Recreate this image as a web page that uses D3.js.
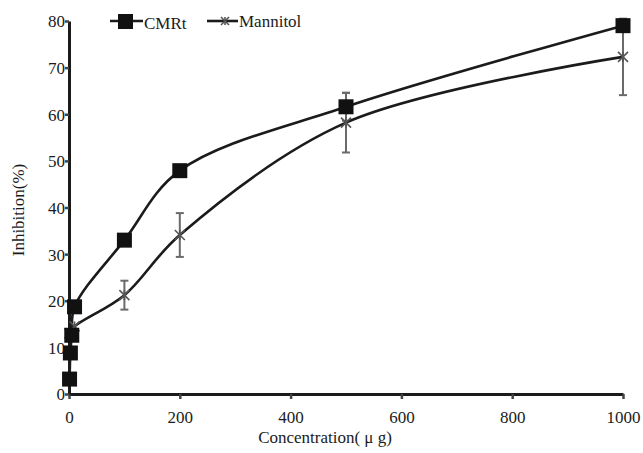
<!DOCTYPE html>
<html><head><meta charset="utf-8">
<script src="https://cdn.jsdelivr.net/npm/d3@7/dist/d3.min.js"></script>
<style>body{margin:0;background:#fff}svg{display:block}svg text{font-family:"Liberation Serif","DejaVu Serif","Times New Roman",serif}</style>
</head><body>
<svg id="c" width="643" height="453"></svg>
<script>
const cmrtX = [1, 2.5, 5, 10, 100, 200, 500, 1000];
const cmrtY = [3.2, 8.8, 12.6, 18.7, 33.0, 47.9, 61.6, 79.0];
const cmrtErr = [0, 0, 0, 0, 0.8, 0.8, 3.0, 0];
const manX = [1, 10, 100, 200, 500, 1000];
const manY = [13.0, 14.5, 21.2, 34.1, 58.2, 72.3];
const manErr = [0, 0, 3.1, 4.7, 6.4, 8.2];
const xTicks = [0, 200, 400, 600, 800, 1000];
const yTicks = [0, 10, 20, 30, 40, 50, 60, 70, 80];
const seriesNames = ["CMRt", "Mannitol"];

const svg = d3.select("#c");
const x = d3.scaleLinear().domain([0, 1000]).range([69, 623]);
const y = d3.scaleLinear().domain([0, 80]).range([394, 21]);
const FS = 17;
const ink = "#1b1b1b";

const gx = svg.append("g").attr("transform", `translate(0,${y(0)})`)
  .call(d3.axisBottom(x).tickValues(xTicks).tickFormat(d3.format("d")).tickSize(5).tickPadding(12).tickSizeOuter(0));
const gy = svg.append("g").attr("transform", `translate(${x(0)},0)`)
  .call(d3.axisLeft(y).tickValues(yTicks).tickFormat(d3.format("d")).tickSize(4).tickPadding(0).tickSizeOuter(0));
[gx, gy].forEach(g => {
  g.attr("font-family", null).attr("font-size", null);
  g.select(".domain").attr("stroke", ink).attr("stroke-width", 3);
  g.selectAll(".tick line").attr("stroke", "#444").attr("stroke-width", 2.5);
  g.selectAll("text").style("font-size", FS + "px").attr("fill", ink);
});
gy.selectAll("text").attr("dy", "0.35em");

svg.append("text").attr("x", 325).attr("y", 443).attr("text-anchor", "middle")
  .style("font-size", FS + "px").attr("fill", ink).text("Concentration( μ g)");
svg.append("text").attr("transform", "translate(24,210) rotate(-90)").attr("text-anchor", "middle")
  .style("font-size", FS + "px").attr("fill", ink).text("Inhibition(%)");

const line = d3.line().x(d => x(d[0])).y(d => y(d[1])).curve(d3.curveCatmullRom.alpha(0.5));
const cmrt = cmrtX.map((v, i) => [v, cmrtY[i], cmrtErr[i]]);
const man = manX.map((v, i) => [v, manY[i], manErr[i]]);

function errorBars(data) {
  const g = svg.append("g").attr("stroke", "#6a6a6a").attr("stroke-width", 2);
  data.filter(d => d[2] > 0).forEach(d => {
    g.append("line").attr("x1", x(d[0])).attr("x2", x(d[0])).attr("y1", y(d[1] - d[2])).attr("y2", y(d[1] + d[2]));
    [d[1] - d[2], d[1] + d[2]].forEach(v => g.append("line")
      .attr("x1", x(d[0]) - 4).attr("x2", x(d[0]) + 4).attr("y1", y(v)).attr("y2", y(v)));
  });
}
errorBars(man);
errorBars(cmrt);

svg.append("path").datum(man).attr("d", line).attr("fill", "none").attr("stroke", ink).attr("stroke-width", 2.6);
svg.append("path").datum(cmrt).attr("d", line).attr("fill", "none").attr("stroke", ink).attr("stroke-width", 2.6);

function star(g, cx, cy, r) {
  const s = g.append("g").attr("stroke", "#555").attr("stroke-width", 1.6);
  s.append("line").attr("x1", cx - r).attr("x2", cx + r).attr("y1", cy - r).attr("y2", cy + r);
  s.append("line").attr("x1", cx - r).attr("x2", cx + r).attr("y1", cy + r).attr("y2", cy - r);
  s.append("line").attr("x1", cx).attr("x2", cx).attr("y1", cy - r).attr("y2", cy + r);
}
const mg = svg.append("g");
man.forEach(d => star(mg, x(d[0]), y(d[1]), 5));

svg.append("g").selectAll("rect").data(cmrt).join("rect")
  .attr("x", d => x(d[0]) - 7.5).attr("y", d => y(d[1]) - 7.5)
  .attr("width", 15).attr("height", 15).attr("fill", "#111");

const lg = svg.append("g");
lg.append("line").attr("x1", 110).attr("x2", 143).attr("y1", 21).attr("y2", 21).attr("stroke", ink).attr("stroke-width", 2.6);
lg.append("rect").attr("x", 118).attr("y", 14).attr("width", 15).attr("height", 15).attr("fill", "#111");
lg.append("text").attr("x", 144).attr("y", 29).style("font-size", FS + "px").attr("fill", ink).text(seriesNames[0]);
lg.append("line").attr("x1", 207).attr("x2", 238).attr("y1", 21).attr("y2", 21).attr("stroke", ink).attr("stroke-width", 2.6);
star(lg, 225, 21, 4);
lg.append("text").attr("x", 239).attr("y", 27).style("font-size", FS + "px").attr("fill", ink).text(seriesNames[1]);
</script>
</body></html>
